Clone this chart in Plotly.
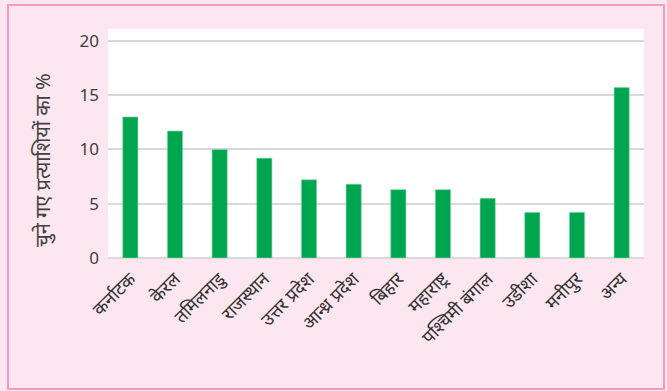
import plotly.graph_objects as go

# Share of elected candidates by state (%)
states = ["कर्नाटक", "केरल", "तमिलनाडु", "राजस्थान", "उत्तर प्रदेश", "आन्ध्र प्रदेश",
          "बिहार", "महाराष्ट्र", "पश्चिमी बंगाल", "उडीशा", "मनीपुर", "अन्य"]
shares = [13.0, 11.7, 10.0, 9.2, 7.2, 6.8, 6.3, 6.3, 5.5, 4.2, 4.2, 15.7]
y_ticks = [0, 5, 10, 15, 20]
y_title = "चुने गए प्रत्याशियों का %"

W, H = 667, 391
ML, MR, MT, MB = 108, 23, 29, 133
PW, PH = W - ML - MR, H - MT - MB


def px_x(x):
    return (x - ML) / PW


def px_y(y):
    return (H - MB - y) / PH


fig = go.Figure(go.Bar(
    x=states, y=shares,
    marker=dict(color="#00A550", line=dict(color="#7FD6A8", width=0.6)),
))

font_fam = "Noto Sans, Noto Sans Devanagari, sans-serif"

fig.update_layout(
    width=W, height=H,
    margin=dict(l=ML, r=MR, t=MT, b=MB),
    paper_bgcolor="#FCE6EF",
    plot_bgcolor="#FFFFFF",
    bargap=0.66,
    showlegend=False,
    font=dict(family=font_fam, color="#404040"),
    xaxis=dict(
        tickangle=-45, tickfont=dict(size=18, color="#303030"),
        showgrid=False, showline=False, ticks="", ticklabelstandoff=6,
    ),
    yaxis=dict(
        range=[0, 21.1], tickvals=y_ticks, tickfont=dict(size=17, color="#404040"),
        showgrid=True, gridcolor="#D9D9D9", gridwidth=1.5,
        zeroline=True, zerolinecolor="#D9D9D9", zerolinewidth=1.5,
        ticks="", ticklabelstandoff=8,
    ),
    annotations=[dict(
        text=y_title, textangle=-90, showarrow=False,
        xref="paper", yref="paper", x=px_x(42), y=px_y(160),
        xanchor="center", yanchor="middle",
        font=dict(size=20, color="#404040"),
    )],
    shapes=[dict(
        type="rect", xref="paper", yref="paper",
        x0=px_x(8), x1=px_x(664), y0=px_y(389), y1=px_y(5),
        line=dict(color="#F29AC2", width=2), fillcolor="rgba(0,0,0,0)", layer="below",
    )],
)

fig.write_html("out.html")
